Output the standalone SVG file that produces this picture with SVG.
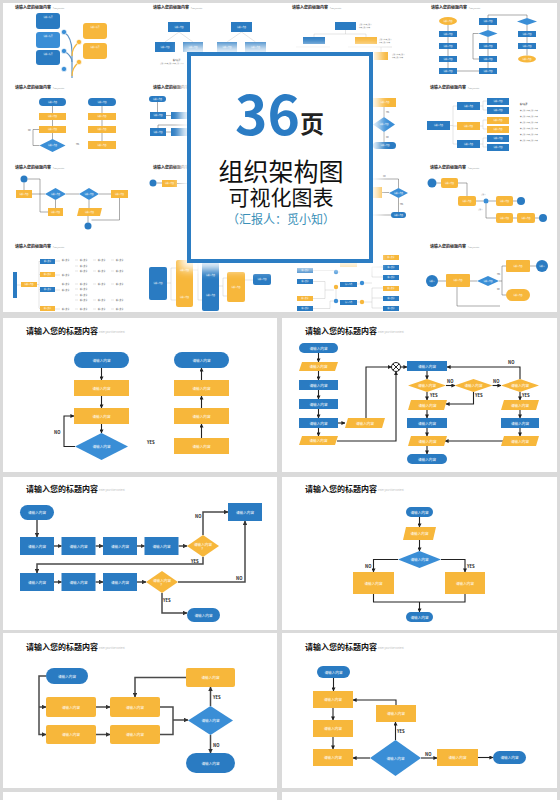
<svg xmlns="http://www.w3.org/2000/svg" width="560" height="800" viewBox="0 0 560 800">
<defs>
<style>
text{font-family:"Noto Sans CJK SC","Noto Sans",sans-serif}
.bg{fill:#dadada}
.pn{fill:#fff}
.b{fill:#2a7bc2}
.y{fill:#f7b73b}
.d{fill:#3a8ed6}
.t{fill:#fff;font-size:3.6px;text-anchor:middle;dominant-baseline:central}
.ttl{font-size:8px;font-weight:700;fill:#111}
.sub{font-size:2.4px;fill:#bbb}
.lb{font-size:4.2px;font-weight:700;fill:#222}
.c{fill:none;stroke:#222;stroke-width:1.1;marker-end:url(#a)}
.cn{fill:none;stroke:#222;stroke-width:1.1}
.g{fill:none;stroke:#4a4a4a;stroke-width:1.5;marker-end:url(#a2)}
.gn{fill:none;stroke:#4a4a4a;stroke-width:1.5}
.mt{font-size:4px;font-weight:700;fill:#222}
.ml{fill:none;stroke:#555;stroke-width:0.5}
.mll{fill:none;stroke:#bbb;stroke-width:0.4}
.mx{fill:#fff;font-size:1.8px;text-anchor:middle;dominant-baseline:central}
.mg{fill:#888;font-size:1.6px}
.ms{fill:#444;font-size:1.8px}
</style>
<marker id="a" markerWidth="4" markerHeight="4" refX="3.6" refY="2" orient="auto" markerUnits="userSpaceOnUse"><path d="M0,0 L4,2 L0,4 z" fill="#222"/></marker>
<marker id="a2" markerWidth="4.5" markerHeight="4.5" refX="4" refY="2.25" orient="auto" markerUnits="userSpaceOnUse"><path d="M0,0 L4.5,2.25 L0,4.5 z" fill="#333"/></marker>
<filter id="gl" x="-20%" y="-20%" width="140%" height="140%"><feGaussianBlur stdDeviation="5"/></filter>
</defs>

<rect class="bg" x="0" y="0" width="560" height="800"/>

<!-- ================= TOP COLLAGE ================= -->
<g id="collage">
<rect class="pn" x="3" y="3" width="554" height="309"/>

<!-- Cell A -->
<g id="mini-a">
<text class="mt" x="15" y="9">请输入您的标题内容</text><text class="mg" x="53" y="9">Enter your title</text>
<path d="M64,32 C70,36 72,42 72,52 L72,78" stroke="#5f93c4" stroke-width="1.2" fill="none"/>
<path d="M64,51 C69,54 72,58 72,62" stroke="#5f93c4" stroke-width="1.2" fill="none"/>
<path d="M79,42 C74,46 72,50 72,56" stroke="#f7b73b" stroke-width="1.2" fill="none"/>
<path d="M79,62 C74,66 72,70 72,76" stroke="#f7b73b" stroke-width="1.2" fill="none"/>
<rect class="b" x="36" y="13" width="24" height="16" rx="3"/><rect class="d" x="36" y="32" width="24" height="16" rx="3"/><rect class="b" x="36" y="50" width="24" height="15" rx="3"/>
<rect class="y" x="83" y="23" width="24" height="16" rx="3"/><rect class="y" x="83" y="43" width="24" height="16" rx="3"/>
<circle cx="64" cy="32" r="2.6" class="d" stroke="#fff" stroke-width="0.6"/><circle cx="64" cy="51" r="2.6" class="d" stroke="#fff" stroke-width="0.6"/><circle cx="64" cy="69" r="2.6" class="d" stroke="#fff" stroke-width="0.6"/>
<circle cx="79" cy="42" r="2.6" class="y" stroke="#fff" stroke-width="0.6"/><circle cx="79" cy="62" r="2.6" class="y" stroke="#fff" stroke-width="0.6"/>
<text class="mx" x="48" y="17">请输入标题</text><text class="mx" x="48" y="36">请输入标题</text><text class="mx" x="48" y="54">请输入标题</text>
<text class="mx" x="95" y="27">请输入标题</text><text class="mx" x="95" y="47">请输入标题</text>
</g>

<!-- Cell B -->
<g id="mini-b">
<text class="mt" x="153" y="9">请输入您的标题内容</text><text class="mg" x="191" y="9">Enter your title</text>
<path class="mll" d="M179,32 L165,42 M179,32 L193,42 M241.5,32 L227,42 M241.5,32 L255.5,42"/>
<rect class="b" x="168" y="22" width="22" height="10"/><rect class="b" x="231" y="22" width="21" height="10"/>
<rect class="b" x="155" y="42" width="20" height="10"/><rect class="b" x="183" y="42" width="20" height="10"/><rect class="b" x="217" y="42" width="20" height="10"/><rect class="b" x="245" y="42" width="21" height="10"/>
<text class="mx" x="179" y="27">请输入内容</text><text class="mx" x="241.5" y="27">请输入内容</text>
<text class="mx" x="165" y="47">请输入内容</text><text class="mx" x="193" y="47">请输入内容</text><text class="mx" x="227" y="47">请输入内容</text><text class="mx" x="255.5" y="47">请输入内容</text>
<text class="ms" x="173" y="61" font-weight="700">输入标题</text><text class="mg" x="160" y="64">请输入内容请输入内容请输入内容</text>
</g>

<!-- Cell C -->
<g id="mini-c">
<text class="mt" x="292" y="9">请输入您的标题内容</text><text class="mg" x="330" y="9">Enter your title</text>
<path class="mll" d="M345.5,30 V34 M314,34 H366 M314,34 V37 M366,34 V37 M296,47 H330 M348,47 H392 M381,47 V52"/>
<rect class="b" x="335" y="22" width="21" height="8"/>
<rect class="b" x="303" y="37" width="22" height="7"/><rect class="y" x="355" y="37" width="22" height="7"/>
<rect class="y" x="374" y="52" width="14" height="8"/>
<text class="mg" x="359" y="25">请输入内容请输入</text><text class="mg" x="359" y="28">内容请输入内容</text>
<text class="mg" x="379" y="40">请输入内容请输入</text><text class="mg" x="379" y="43">内容请输入内容</text>
<text class="mg" x="392" y="55">请输入内容请输入</text><text class="mg" x="392" y="58">内容请输入内容</text>
</g>

<!-- Cell D -->
<g id="mini-d">
<text class="mt" x="431" y="9">请输入您的标题内容</text><text class="mg" x="469" y="9">Enter your title</text>
<path class="ml" d="M448,25V31 M448,37V43 M448,49V56 M448,62V68 M457,71H479 M488,68V62 M488,56V49 M488,43V37 M488,30V25 M488,18V15H527V18 M527,25V31 M527,37V43 M527,49V55.5 M478.5,33.5H473V59H479"/>
<ellipse cx="448" cy="21" rx="9" ry="4" class="y"/>
<rect class="b" x="439" y="31" width="18" height="6"/><rect class="b" x="439" y="43" width="18" height="6"/><rect class="b" x="439" y="56" width="18" height="6"/><rect class="b" x="439" y="68" width="18" height="6"/>
<rect class="b" x="479" y="18" width="18" height="7"/><polygon class="d" points="488,30 497.5,33.5 488,37 478.5,33.5"/>
<rect class="b" x="479" y="43" width="18" height="6"/><rect class="b" x="479" y="56" width="18" height="6"/><rect class="b" x="479" y="68" width="18" height="6"/>
<polygon class="d" points="527,18 537,21.5 527,25 517,21.5"/>
<rect class="b" x="518" y="31" width="18" height="6"/><rect class="b" x="518" y="43" width="18" height="6"/>
<ellipse cx="527" cy="59" rx="9" ry="3.5" class="y"/>
<text class="mx" x="448" y="21">请输入内容</text><text class="mx" x="448" y="34">请输入内容</text><text class="mx" x="448" y="46">请输入内容</text><text class="mx" x="448" y="59">请输入内容</text><text class="mx" x="448" y="71">请输入内容</text>
<text class="mx" x="488" y="21.5">请输入内容</text><text class="mx" x="488" y="46">请输入内容</text><text class="mx" x="488" y="59">请输入内容</text><text class="mx" x="488" y="71">请输入内容</text>
<text class="mx" x="527" y="34">请输入内容</text><text class="mx" x="527" y="46">请输入内容</text><text class="mx" x="527" y="59">请输入内容</text>
</g>

<!-- Cell E -->
<g id="mini-e">
<text class="mt" x="15" y="89">请输入您的标题内容</text><text class="mg" x="53" y="89">Enter your title</text>
<path class="ml" d="M52.5,106V113 M52.5,120V126 M52.5,133V139 M39.5,145.5H33V129.5H39 M102,141V133 M102,126V120 M102,113V106"/>
<rect class="b" x="39" y="98" width="27" height="8" rx="4"/><rect class="y" x="39" y="113" width="27" height="7"/><rect class="y" x="39" y="126" width="27" height="7"/>
<polygon class="d" points="52.5,139 65.5,145.5 52.5,152 39.5,145.5"/>
<rect class="b" x="88" y="98" width="28" height="8" rx="4"/><rect class="y" x="88" y="113" width="28" height="7"/><rect class="y" x="88" y="126" width="28" height="7"/><rect class="y" x="88" y="141" width="28" height="8"/>
<text class="mx" x="52.5" y="102">请输入内容</text><text class="mx" x="52.5" y="116.5">请输入内容</text><text class="mx" x="52.5" y="129.5">请输入内容</text><text class="mx" x="52.5" y="145.5">请输入内容</text>
<text class="mx" x="102" y="102">请输入内容</text><text class="mx" x="102" y="116.5">请输入内容</text><text class="mx" x="102" y="129.5">请输入内容</text><text class="mx" x="102" y="145">请输入内容</text>
<text class="ms" x="28" y="131">NO</text><text class="ms" x="76" y="145">YES</text>
</g>

<!-- Cell F -->
<g id="mini-f">
<text class="mt" x="153" y="89">请输入您的标题内容</text>
<path class="ml" d="M157.5,102V112 M166,115.5H171 M187,125H158V128 M166,132H171"/>
<rect class="b" x="149" y="96" width="17" height="6" rx="3"/><rect class="b" x="150" y="112" width="16" height="7"/><rect class="b" x="171" y="112" width="16" height="7"/>
<rect class="b" x="150" y="128" width="16" height="8"/><rect class="b" x="171" y="128" width="16" height="8"/>
<text class="mx" x="157.5" y="99">请输入内容</text><text class="mx" x="158" y="115.5">请输入内容</text><text class="mx" x="158" y="132">请输入内容</text>
</g>

<!-- Cell G -->
<g id="mini-g">
<path class="ml" d="M384,117V107 M384,132V142"/>
<rect class="y" x="373" y="98" width="23" height="9"/>
<polygon class="d" points="384,117 395,124.5 384,132 373,124.5"/>
<rect class="b" x="373" y="142" width="23" height="7" rx="3.5"/>
<text class="mx" x="385" y="102.5">请输入内容</text><text class="mx" x="384" y="124.5">请输入内容</text><text class="mx" x="385" y="145.5">请输入内容</text>
<text class="ms" x="386" y="113">YES</text><text class="ms" x="386" y="138">NO</text>
</g>

<!-- Cell H -->
<g id="mini-h">
<text class="mt" x="430" y="89">请输入您的标题内容</text><text class="mg" x="468" y="89">Enter your title</text>
<path class="mll" d="M450,125.5 H453 M453,106 V144 M453,106 H457 M453,126 H457 M453,144 H457 M480,106 H483 M483,101 V110 M483,101 H487 M483,110 H487 M480,126 H483 M483,120 V129 M483,120 H487 M483,129 H487 M480,144 H483 M483,138 V147 M483,138 H487 M483,147 H487"/>
<rect class="b" x="427" y="121" width="23" height="9"/>
<rect class="b" x="457" y="102" width="23" height="8"/><rect class="y" x="457" y="122" width="23" height="8"/><rect class="b" x="457" y="140" width="23" height="8"/>
<rect class="b" x="487" y="98" width="22" height="7"/><rect class="b" x="487" y="107" width="22" height="7"/><rect class="y" x="487" y="117" width="22" height="7"/><rect class="y" x="487" y="126" width="22" height="7"/><rect class="b" x="487" y="135" width="22" height="7"/><rect class="b" x="487" y="144" width="22" height="7"/>
<text class="mx" x="438.5" y="125.5">请输入内容</text><text class="mx" x="468.5" y="106">请输入内容</text><text class="mx" x="468.5" y="126">请输入内容</text><text class="mx" x="468.5" y="144">请输入内容</text>
<text class="mx" x="498" y="101.5">请输入内容</text><text class="mx" x="498" y="110.5">请输入内容</text><text class="mx" x="498" y="120.5">请输入内容</text><text class="mx" x="498" y="129.5">请输入内容</text><text class="mx" x="498" y="138.5">请输入内容</text><text class="mx" x="498" y="147.5">请输入内容</text>
<text class="ms" x="520" y="105" font-size="3" font-weight="700">输入标题</text>
<text class="mg" x="520" y="111">■ 请输入内容请输入内容</text><text class="mg" x="520" y="117">■ 请输入内容请输入内容</text><text class="mg" x="520" y="123">■ 请输入内容请输入内容</text><text class="mg" x="520" y="129">■ 请输入内容请输入内容</text><text class="mg" x="520" y="135">■ 请输入内容请输入内容</text><text class="mg" x="520" y="141">■ 请输入内容请输入内容</text>
</g>

<!-- Cell I -->
<g id="mini-i">
<text class="mt" x="15" y="169">请输入您的标题内容</text><text class="mg" x="53" y="169">Enter your title</text>
<path class="ml" d="M24,182.5V190 M27.5,179H40V212H48 M32,194H45 M66,194H79 M99,194H111 M55.5,200V208 M89,200V208 M88,216V222.5 M119.5,198V220H91.5"/>
<circle cx="24" cy="179" r="3.5" class="b"/>
<rect class="y" x="16" y="190" width="16" height="8"/>
<polygon class="d" points="55.5,188 66,194 55.5,200 45,194"/><polygon class="d" points="89,188 99,194 89,200 79,194"/>
<rect class="y" x="111" y="190" width="17" height="8"/><rect class="y" x="48" y="208" width="15" height="8"/>
<polygon class="y" points="79,208 102,208 100,216 77,216"/>
<circle cx="88" cy="226" r="3.5" class="b"/>
<text class="mx" x="24" y="194">请输入内容</text><text class="mx" x="55.5" y="194">请输入内容</text><text class="mx" x="89" y="194">请输入内容</text><text class="mx" x="119.5" y="194">请输入内容</text><text class="mx" x="55.5" y="212">请输入内容</text><text class="mx" x="89.5" y="212">请输入内容</text>
</g>

<!-- Cell J -->
<g id="mini-j">
<text class="mt" x="153" y="169">请输入您的标题内容</text>
<path class="ml" d="M156.5,183H162 M177,183.5H187"/>
<circle cx="153" cy="183" r="3.5" class="b"/>
<rect class="y" x="162" y="180" width="15" height="7"/>
<text class="mx" x="169.5" y="183.5">请输入内容</text>
</g>

<!-- Cell K -->
<g id="mini-k">
<path class="ml" d="M398.5,198V212 M373,215H391 M398.5,188V179H373 M382,192.5H389"/>
<rect class="y" x="373" y="187" width="9" height="11"/>
<polygon class="d" points="398.5,188 408,193 398.5,198 389,193"/>
<rect class="b" x="391" y="212" width="15" height="6" rx="3"/>
<text class="ms" x="383" y="177">NO</text><text class="ms" x="400" y="205">YES</text>
<text class="mx" x="398.5" y="193">请输入内容</text><text class="mx" x="398.5" y="215">请输入内容</text>
</g>

<!-- Cell L -->
<g id="mini-l">
<text class="mt" x="430" y="169">请输入您的标题内容</text><text class="mg" x="468" y="169">Enter your title</text>
<path class="ml" d="M436.5,183H441 M458,183H467V196 M476,201H483.5 M488.5,201H496 M513,201H517 M486,203.5V218H496 M513,218H517 M535,218H539"/>
<circle cx="432" cy="183" r="4.5" class="b"/>
<rect class="y" x="441" y="178" width="17" height="10" rx="2"/><rect class="y" x="458" y="196" width="18" height="10" rx="2"/>
<circle cx="486" cy="201" r="2.5" class="d"/>
<rect class="y" x="496" y="196" width="17" height="10" rx="2"/><circle cx="521" cy="201" r="4" class="b"/>
<rect class="y" x="496" y="213" width="17" height="10" rx="2"/><rect class="y" x="517" y="213" width="18" height="10" rx="2"/><circle cx="543" cy="218" r="4" class="b"/>
<text class="mx" x="449.5" y="183">请输入内容</text><text class="mx" x="467" y="201">请输入内容</text><text class="mx" x="504.5" y="201">请输入内容</text><text class="mx" x="504.5" y="218">请输入内容</text><text class="mx" x="526" y="218">请输入内容</text>
<text class="mg" x="481" y="195">请输入</text><text class="mg" x="478" y="210">请输入</text>
</g>

<!-- Cell M -->
<g id="mini-m">
<text class="mt" x="15" y="248">请输入您的标题内容</text><text class="mg" x="53" y="248">Enter your title</text>
<path class="mll" d="M17,285H21 M37,284.5H39 M39,261V308 M39,261.5H40 M39,274.5H40 M39,289.5H40 M39,308.5H40 M55,261H60 M75,260H78 M93,260H96 M111,260H114 M55,275H60 M75,266H78 M75,271H78 M93,271H96 M111,271H114 M55,290H60 M75,284H78 M93,284H96 M111,284H114 M75,289H78 M75,295H78 M75,300H78 M93,300H96 M111,300H114 M55,309H60 M75,309H78 M93,309H96 M111,309H114"/>
<rect class="b" x="13" y="272" width="4" height="26"/>
<rect class="y" x="21" y="282" width="16" height="5"/>
<rect class="b" x="40" y="259" width="15" height="5"/><rect class="y" x="40" y="272" width="15" height="5"/><rect class="b" x="40" y="287" width="15" height="5"/><rect class="y" x="40" y="306" width="15" height="5"/>
<text class="mx" x="29" y="284.5">请输入内容</text><text class="mx" x="47.5" y="261.5">输入文字</text><text class="mx" x="47.5" y="274.5">输入文字</text><text class="mx" x="47.5" y="289.5">输入文字</text><text class="mx" x="47.5" y="308.5">输入文字</text>
<g class="ms">
<text x="62" y="261">输入文字</text><text x="80" y="261">输入文字</text><text x="98" y="261">输入文字</text><text x="116" y="261">输入文字</text>
<text x="80" y="267">输入文字</text><text x="80" y="272">输入文字</text><text x="98" y="272">输入文字</text><text x="116" y="272">输入文字</text>
<text x="62" y="276">输入文字</text>
<text x="62" y="285">输入文字</text><text x="80" y="285">输入文字</text><text x="98" y="285">输入文字</text><text x="116" y="285">输入文字</text>
<text x="80" y="290">输入文字</text><text x="62" y="291">输入文字</text><text x="80" y="296">输入文字</text><text x="80" y="301">输入文字</text><text x="98" y="301">输入文字</text><text x="116" y="301">输入文字</text>
<text x="62" y="310">输入文字</text><text x="80" y="310">输入文字</text><text x="98" y="310">输入文字</text><text x="116" y="310">输入文字</text>
</g>
</g>

<!-- Cell N -->
<g id="mini-n">
<path class="mll" d="M167,283H171 M171,268V300 M171,268H176 M171,300H176 M193,270H198 M198,262V300 M198,262H202 M198,300H202 M219,286H223 M223,278V296 M223,278H227 M223,296H227 M245,280H253"/>
<rect class="b" x="149" y="267" width="18" height="33" rx="2"/>
<rect class="y" x="176" y="260" width="17" height="47" rx="2"/>
<rect class="b" x="202" y="262" width="17" height="49" rx="2"/>
<rect class="y" x="227" y="272" width="18" height="30" rx="2"/>
<rect class="b" x="253" y="274" width="18" height="11" rx="2"/>
<text class="mx" x="158" y="283">请输入内容</text><text class="mx" x="184.5" y="270">请输入内容</text><text class="mx" x="184.5" y="297">请输入内容</text><text class="mx" x="210.5" y="275">请输入内容</text><text class="mx" x="210.5" y="295">请输入内容</text><text class="mx" x="236" y="287">请输入内容</text><text class="mx" x="262" y="279.5">请输入内容</text>
</g>

<!-- Cell O -->
<g id="mini-o">
<path class="mll" d="M313,270.5H333.8 M313,281.5H325V298.5H313 M325,290H333.8 M313,308.5H330V301H333.8 M338.2,272H340 M338.2,301H340 M357,284H359.8 M357,302H359.8 M364.2,283H372 M372,267V277 M372,267H383 M372,277H383 M364.2,302H372 M372,288V308 M372,288H383 M372,298H383 M372,308H383 M336,289.2V299"/>
<rect class="b" x="297" y="268" width="16" height="5"/><rect class="b" x="297" y="279" width="16" height="5"/><rect class="y" x="297" y="296" width="16" height="5"/><rect class="b" x="297" y="306" width="16" height="5"/>
<circle cx="336" cy="272" r="2.2" class="d"/><circle cx="336" cy="287" r="2.2" class="y"/><circle cx="336" cy="301" r="2.2" class="d"/>
<rect class="y" x="340" y="262" width="17" height="5"/><rect class="b" x="340" y="282" width="17" height="5"/><rect class="b" x="340" y="300" width="17" height="5"/>
<circle cx="362" cy="283" r="2.2" class="d"/><circle cx="362" cy="302" r="2.2" class="y"/>
<rect class="y" x="383" y="255" width="16" height="5"/><rect class="b" x="383" y="265" width="16" height="5"/><rect class="b" x="383" y="275" width="16" height="5"/><rect class="y" x="383" y="286" width="16" height="5"/><rect class="b" x="383" y="296" width="16" height="5"/><rect class="b" x="383" y="306" width="16" height="5"/>
<text class="mx" x="305" y="270.5">输入文字</text><text class="mx" x="305" y="281.5">输入文字</text><text class="mx" x="305" y="298.5">输入文字</text><text class="mx" x="305" y="308.5">输入文字</text>
<text class="mx" x="348.5" y="284.5">请入人内</text><text class="mx" x="348.5" y="302.5">请入人内</text>
<text class="mx" x="391" y="257.5">输入文字</text><text class="mx" x="391" y="267.5">输入文字</text><text class="mx" x="391" y="277.5">输入文字</text><text class="mx" x="391" y="288.5">输入文字</text><text class="mx" x="391" y="298.5">输入文字</text><text class="mx" x="391" y="308.5">输入文字</text>
</g>

<!-- Cell P -->
<g id="mini-p">
<text class="mt" x="430" y="248">请输入您的标题内容</text><text class="mg" x="468" y="248">Enter your title</text>
<path class="ml" d="M438,281H446 M470,281H477 M499,281H502V266H506 M502,281V295H506 M530,266H536 M457,287V306H500"/>
<circle cx="432" cy="281" r="6" class="b"/>
<rect class="y" x="446" y="274" width="24" height="13" rx="1"/>
<polygon class="d" points="488,276 499,281 488,286 477,281"/>
<rect class="y" x="506" y="260" width="24" height="12" rx="1"/>
<circle cx="542" cy="266" r="6" class="b"/>
<rect class="y" x="506" y="289" width="24" height="12" rx="6"/>
<text class="mx" x="432" y="281">请输入</text><text class="mx" x="458" y="280.5">请输入内容</text><text class="mx" x="488" y="281">请输入内容</text><text class="mx" x="518" y="266">请输入内容</text><text class="mx" x="542" y="266">请输入</text><text class="mx" x="518" y="295">请输入内容</text>
<text class="ms" x="497" y="275">YES</text><text class="ms" x="497" y="290">NO</text>
</g>

<!-- central card -->
<g id="cover-card">
<rect x="180" y="45" width="200" height="225" fill="#fff" opacity="0.9" filter="url(#gl)"/>
<rect x="189" y="54" width="182" height="207" fill="#fff" stroke="#2c7dc3" stroke-width="4"/>
<text x="235" y="135" font-size="55" font-weight="700" fill="#2b7cc4">36</text>
<text x="300" y="133" font-size="24" font-weight="700" fill="#222">页</text>
<text x="281" y="180.5" font-size="25" text-anchor="middle" fill="#111">组织架构图</text>
<text x="281" y="205" font-size="21" text-anchor="middle" fill="#111">可视化图表</text>
<text x="281" y="224" font-size="12" text-anchor="middle" fill="#3a90b8">（汇报人：觅小知）</text>
</g>
</g>

<!-- ================= SLIDE 1 ================= -->
<g id="slide1">
<rect class="pn" x="3" y="318" width="274" height="154"/>
<text class="ttl" x="26" y="334">请输入您的标题内容</text><text class="sub" x="99" y="333">Enter your title content</text>
<g id="s1-conn">
<path class="c" d="M101.5,368V380"/><path class="c" d="M101.5,396V408"/><path class="c" d="M101.5,424V433"/>
<path class="c" d="M75,446.5H64V416H74"/>
<path class="c" d="M201.5,438V424"/><path class="c" d="M201.5,408V396"/><path class="c" d="M201.5,380V368"/>
<text class="lb" x="54" y="434">NO</text><text class="lb" x="147" y="444">YES</text>
</g>
<g id="s1-n1"><rect class="b" x="74" y="352" width="55" height="16" rx="8"/><text class="t" x="101.5" y="360">请输入内容</text></g>
<g id="s1-n2"><rect class="y" x="74" y="380" width="55" height="16"/><text class="t" x="101.5" y="388">请输入内容</text></g>
<g id="s1-n3"><rect class="y" x="74" y="408" width="55" height="16"/><text class="t" x="101.5" y="416">请输入内容</text></g>
<g id="s1-n4"><polygon class="d" points="101.5,433 128,446.5 101.5,460 75,446.5"/><text class="t" x="101.5" y="446.5">请输入内容</text></g>
<g id="s1-n5"><rect class="b" x="174" y="352" width="55" height="16" rx="8"/><text class="t" x="201.5" y="360">请输入内容</text></g>
<g id="s1-n6"><rect class="y" x="174" y="380" width="55" height="16"/><text class="t" x="201.5" y="388">请输入内容</text></g>
<g id="s1-n7"><rect class="y" x="174" y="408" width="55" height="16"/><text class="t" x="201.5" y="416">请输入内容</text></g>
<g id="s1-n8"><rect class="y" x="174" y="438" width="55" height="16"/><text class="t" x="201.5" y="446">请输入内容</text></g>
</g>

<!-- ================= SLIDE 2 ================= -->
<g id="slide2">
<rect class="pn" x="282" y="318" width="275" height="154"/>
<text class="ttl" x="305" y="334">请输入您的标题内容</text><text class="sub" x="378" y="333">Enter your title content</text>
<g id="s2-conn">
<path class="c" d="M318.5,353V362"/><path class="c" d="M318.5,371V380"/><path class="c" d="M318.5,390V399"/><path class="c" d="M318.5,409V418"/><path class="c" d="M318.5,428V436"/>
<path class="c" d="M338,423H345"/>
<path class="c" d="M366,418V367H391.5"/>
<path class="c" d="M337,441H396V371.5"/>
<path class="c" d="M400.5,367H407"/>
<path class="c" d="M427,371V379"/>
<path class="c" d="M446,385.5H455"/>
<path class="c" d="M492.5,385.5H501"/>
<path class="c" d="M520,379V367H447"/>
<path class="c" d="M427,392V400"/>
<path class="c" d="M473.5,392V404H446"/>
<path class="c" d="M520,392V400"/>
<path class="c" d="M427,410V418"/><path class="c" d="M427,428V436"/><path class="c" d="M427,446V454"/>
<path class="c" d="M520,410V418"/><path class="c" d="M520,428V436"/>
<path class="c" d="M503,441H445"/>
<text class="lb" x="447" y="383">NO</text><text class="lb" x="493" y="383">NO</text><text class="lb" x="508" y="364">NO</text>
<text class="lb" x="430" y="397">YES</text><text class="lb" x="475" y="397">YES</text><text class="lb" x="522" y="397">YES</text>
</g>
<g id="s2-n1"><rect class="b" x="299" y="343" width="39" height="10" rx="5"/><text class="t" x="318.5" y="348">请输入内容</text></g>
<g id="s2-n2"><polygon class="y" points="302,362 338,362 335,371 299,371"/><text class="t" x="318.5" y="366.5">请输入内容</text></g>
<g id="s2-n3"><rect class="b" x="299" y="380" width="39" height="10"/><text class="t" x="318.5" y="385">请输入内容</text></g>
<g id="s2-n4"><rect class="b" x="299" y="399" width="39" height="10"/><text class="t" x="318.5" y="404">请输入内容</text></g>
<g id="s2-n5"><rect class="b" x="299" y="418" width="39" height="10"/><text class="t" x="318.5" y="423">请输入内容</text></g>
<g id="s2-n6"><polygon class="y" points="302,436 338,436 335,445 299,445"/><text class="t" x="318.5" y="440.5">请输入内容</text></g>
<g id="s2-n7"><polygon class="y" points="348,418 385,418 382,428 345,428"/><text class="t" x="365" y="423">请输入内容</text></g>
<g id="s2-sum"><circle cx="396" cy="367" r="4.5" fill="#fff" stroke="#222" stroke-width="1"/><path d="M392.8,363.8L399.2,370.2M399.2,363.8L392.8,370.2" stroke="#222" stroke-width="1"/></g>
<g id="s2-n8"><rect class="b" x="407" y="361" width="40" height="10"/><text class="t" x="427" y="366">请输入内容</text></g>
<g id="s2-n9"><polygon class="y" points="427,379 446,385.5 427,392 408,385.5"/><text class="t" x="427" y="385.5">请输入内容</text></g>
<g id="s2-n10"><polygon class="y" points="473.5,379 492.5,385.5 473.5,392 454.5,385.5"/><text class="t" x="473.5" y="385.5">请输入内容</text></g>
<g id="s2-n11"><polygon class="y" points="520,379 539,385.5 520,392 501,385.5"/><text class="t" x="520" y="385.5">请输入内容</text></g>
<g id="s2-n12"><polygon class="y" points="411,400 447,400 444,410 408,410"/><text class="t" x="427.5" y="405">请输入内容</text></g>
<g id="s2-n13"><polygon class="y" points="504,400 539,400 536,410 501,410"/><text class="t" x="520" y="405">请输入内容</text></g>
<g id="s2-n14"><rect class="b" x="407" y="418" width="40" height="10"/><text class="t" x="427" y="423">请输入内容</text></g>
<g id="s2-n15"><rect class="b" x="501" y="418" width="38" height="10"/><text class="t" x="520" y="423">请输入内容</text></g>
<g id="s2-n16"><polygon class="y" points="411,436 447,436 444,446 408,446"/><text class="t" x="427.5" y="441">请输入内容</text></g>
<g id="s2-n17"><polygon class="y" points="504,436 539,436 536,446 501,446"/><text class="t" x="520" y="441">请输入内容</text></g>
<g id="s2-n18"><rect class="b" x="407" y="454" width="40" height="10" rx="5"/><text class="t" x="427" y="459">请输入内容</text></g>
</g>

<!-- ================= SLIDE 3 ================= -->
<g id="slide3">
<rect class="pn" x="3" y="477" width="274" height="153"/>
<text class="ttl" x="26" y="492">请输入您的标题内容</text><text class="sub" x="99" y="491">Enter your title content</text>
<g id="s3-conn">
<path class="g" d="M37,520V537"/>
<path class="g" d="M54,546H61.5"/><path class="g" d="M95.5,546H103"/><path class="g" d="M137,546H144.5"/><path class="g" d="M178.5,546H187"/>
<path class="g" d="M203,535V512H228"/>
<path class="g" d="M203,557V564H37V573"/>
<path class="g" d="M54,582H61.5"/><path class="g" d="M95.5,582H103"/><path class="g" d="M137,582H146"/>
<path class="g" d="M178,582H245V521"/>
<path class="g" d="M162,593V613H187"/>
<text class="lb" x="195" y="518">NO</text><text class="lb" x="191" y="563">YES</text><text class="lb" x="236" y="580">NO</text><text class="lb" x="163" y="602">YES</text>
</g>
<g id="s3-n1"><rect class="b" x="20" y="505" width="34" height="15" rx="7.5"/><text class="t" x="37" y="512.5">请输入内容</text></g>
<g id="s3-n2"><rect class="b" x="20" y="537" width="34" height="18"/><text class="t" x="37" y="546">请输入内容</text></g>
<g id="s3-n3"><rect class="b" x="61.5" y="537" width="34" height="18"/><text class="t" x="78.5" y="546">请输入内容</text></g>
<g id="s3-n4"><rect class="b" x="103" y="537" width="34" height="18"/><text class="t" x="120" y="546">请输入内容</text></g>
<g id="s3-n5"><rect class="b" x="144.5" y="537" width="34" height="18"/><text class="t" x="161.5" y="546">请输入内容</text></g>
<g id="s3-n6"><polygon class="y" points="203,535 219,546 203,557 187,546"/><text class="t" x="203" y="544.5">请输入内容</text><text class="t" x="203" y="548.5">？</text></g>
<g id="s3-n7"><rect class="b" x="228" y="503" width="34" height="18"/><text class="t" x="245" y="512">请输入内容</text></g>
<g id="s3-n8"><rect class="b" x="20" y="573" width="34" height="18"/><text class="t" x="37" y="582">请输入内容</text></g>
<g id="s3-n9"><rect class="b" x="61.5" y="573" width="34" height="18"/><text class="t" x="78.5" y="582">请输入内容</text></g>
<g id="s3-n10"><rect class="b" x="103" y="573" width="34" height="18"/><text class="t" x="120" y="582">请输入内容</text></g>
<g id="s3-n11"><polygon class="y" points="162,571 178,582 162,593 146,582"/><text class="t" x="162" y="580.5">请输入内容</text><text class="t" x="162" y="584.5">？</text></g>
<g id="s3-n12"><rect class="b" x="187" y="608" width="33" height="14" rx="7"/><text class="t" x="203.5" y="615">请输入内容</text></g>
</g>

<!-- ================= SLIDE 4 ================= -->
<g id="slide4">
<rect class="pn" x="282" y="477" width="275" height="153"/>
<text class="ttl" x="305" y="492">请输入您的标题内容</text><text class="sub" x="378" y="491">Enter your title content</text>
<g id="s4-conn">
<path class="c" d="M419.5,517V527"/><path class="c" d="M419.5,540V551"/>
<path class="c" d="M398,559.5H373.5V572"/><path class="c" d="M441,559.5H465V572"/>
<path class="cn" d="M373.5,594V602H465V594"/><path class="c" d="M419.5,602V612"/>
<text class="lb" x="365" y="568">NO</text><text class="lb" x="467" y="568">YES</text>
</g>
<g id="s4-n1"><rect class="b" x="406" y="507" width="27" height="10" rx="5"/><text class="t" x="419.5" y="512">请输入内容</text></g>
<g id="s4-n2"><polygon class="y" points="406,527 436,527 433,540 403,540"/><text class="t" x="419.5" y="533.5">请输入内容</text></g>
<g id="s4-n3"><polygon class="d" points="419.5,551 441,559.5 419.5,568 398,559.5"/><text class="t" x="419.5" y="559.5">请输入内容</text></g>
<g id="s4-n4"><rect class="y" x="353" y="572" width="41" height="22"/><text class="t" x="373.5" y="583">请输入内容</text></g>
<g id="s4-n5"><rect class="y" x="445" y="572" width="40" height="22"/><text class="t" x="465" y="583">请输入内容</text></g>
<g id="s4-n6"><rect class="b" x="406" y="612" width="27" height="10" rx="5"/><text class="t" x="419.5" y="617">请输入内容</text></g>
</g>

<!-- ================= SLIDE 5 ================= -->
<g id="slide5">
<rect class="pn" x="3" y="633" width="274" height="155"/>
<text class="ttl" x="26" y="650">请输入您的标题内容</text><text class="sub" x="99" y="649">Enter your title content</text>
<g id="s5-conn">
<path class="g" d="M46,676H39V734.5H46"/><path class="g" d="M39,707H46"/>
<path class="g" d="M96,707H110"/><path class="g" d="M96,734.5H110"/>
<path class="gn" d="M160,707H173V734.5H160"/><path class="g" d="M173,720H188"/>
<path class="g" d="M210.5,706V687"/>
<path class="g" d="M186,677.5H135V697"/>
<path class="g" d="M210.5,735V753"/>
<text class="lb" x="213" y="699">YES</text><text class="lb" x="213" y="747">NO</text>
</g>
<g id="s5-n1"><rect class="b" x="46" y="668" width="42" height="16" rx="8"/><text class="t" x="67" y="676">请输入内容</text></g>
<g id="s5-n2"><rect class="y" x="46" y="697" width="50" height="20" rx="2"/><text class="t" x="71" y="707">请输入内容</text></g>
<g id="s5-n3"><rect class="y" x="46" y="725" width="50" height="19" rx="2"/><text class="t" x="71" y="734.5">请输入内容</text></g>
<g id="s5-n4"><rect class="y" x="110" y="697" width="50" height="20" rx="2"/><text class="t" x="135" y="707">请输入内容</text></g>
<g id="s5-n5"><rect class="y" x="110" y="725" width="50" height="19" rx="2"/><text class="t" x="135" y="734.5">请输入内容</text></g>
<g id="s5-n6"><polygon class="d" points="210.5,706 233,720.5 210.5,735 188,720.5"/><text class="t" x="210.5" y="720.5">请输入内容</text></g>
<g id="s5-n7"><rect class="y" x="186" y="668" width="49" height="19" rx="2"/><text class="t" x="210.5" y="677.5">请输入内容</text></g>
<g id="s5-n8"><rect class="b" x="186" y="753" width="49" height="20" rx="10"/><text class="t" x="210.5" y="763">请输入内容</text></g>
</g>

<!-- ================= SLIDE 6 ================= -->
<g id="slide6">
<rect class="pn" x="282" y="633" width="275" height="155"/>
<text class="ttl" x="305" y="650">请输入您的标题内容</text><text class="sub" x="378" y="649">Enter your title content</text>
<g id="s6-conn">
<path class="c" d="M333.5,678V691"/><path class="c" d="M333,708V720"/><path class="c" d="M333,737V749"/>
<path class="c" d="M370,758H353"/>
<path class="c" d="M395.5,740V722"/>
<path class="c" d="M396,705V700H353"/>
<path class="c" d="M421,758H437"/>
<path class="c" d="M478,757.5H493"/>
<text class="lb" x="397" y="733">YES</text><text class="lb" x="425" y="756">NO</text>
</g>
<g id="s6-n1"><rect class="b" x="317" y="666" width="33" height="12" rx="6"/><text class="t" x="333.5" y="672">请输入内容</text></g>
<g id="s6-n2"><rect class="y" x="313" y="691" width="40" height="17"/><text class="t" x="333" y="699.5">请输入内容</text></g>
<g id="s6-n3"><rect class="y" x="313" y="720" width="40" height="17"/><text class="t" x="333" y="728.5">请输入内容</text></g>
<g id="s6-n4"><rect class="y" x="313" y="749" width="40" height="17"/><text class="t" x="333" y="757.5">请输入内容</text></g>
<g id="s6-n5"><polygon class="d" points="395.5,740 421,758 395.5,776 370,758"/><text class="t" x="395.5" y="758">请输入内容</text></g>
<g id="s6-n6"><rect class="y" x="376" y="705" width="40" height="17"/><text class="t" x="396" y="713.5">请输入内容</text></g>
<g id="s6-n7"><rect class="y" x="437" y="749" width="41" height="17"/><text class="t" x="457.5" y="757.5">请输入内容</text></g>
<g id="s6-n8"><rect class="b" x="493" y="751" width="33" height="13" rx="6.5"/><text class="t" x="509.5" y="757.5">请输入内容</text></g>
</g>

<!-- partial next slides -->
<rect class="pn" x="3" y="792" width="274" height="8"/>
<rect class="pn" x="282" y="792" width="275" height="8"/>
</svg>
